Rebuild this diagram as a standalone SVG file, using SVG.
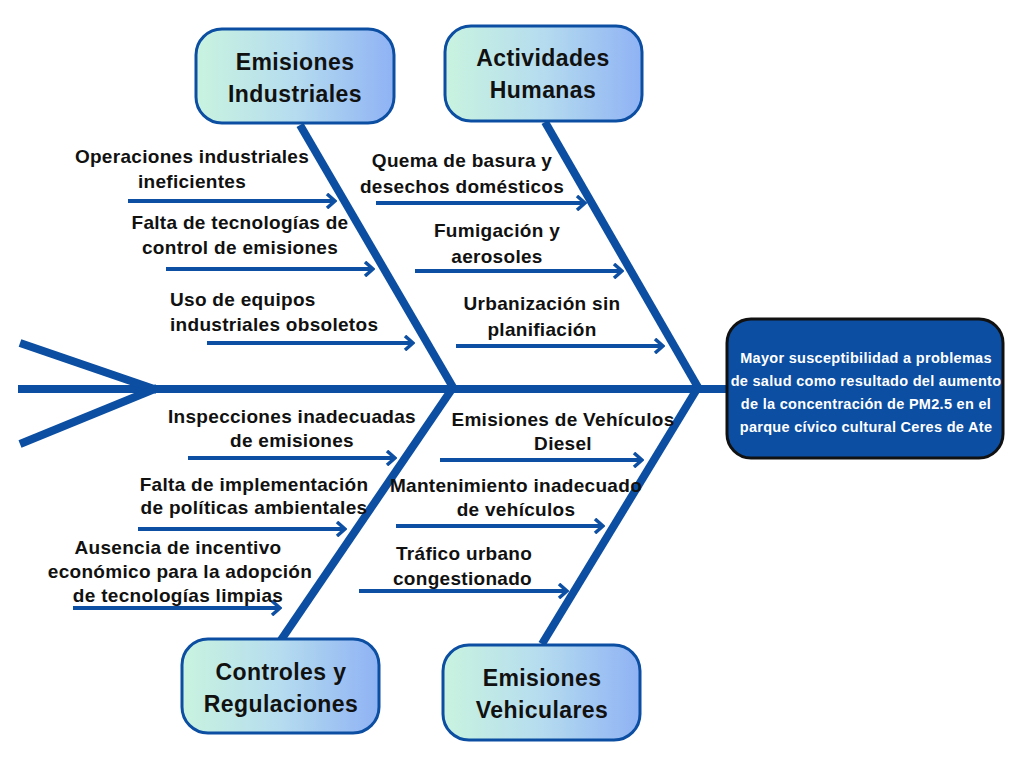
<svg xmlns="http://www.w3.org/2000/svg" width="1024" height="768" viewBox="0 0 1024 768">
<defs>
<linearGradient id="cat" x1="0" y1="0" x2="1" y2="0">
<stop offset="0" stop-color="#c9f3df"/>
<stop offset="0.5" stop-color="#b5dcef"/>
<stop offset="1" stop-color="#8fb2f4"/>
</linearGradient>
<marker id="ah" viewBox="0 0 12 16" refX="10" refY="8" markerWidth="12" markerHeight="16" markerUnits="userSpaceOnUse" orient="auto">
<path d="M2,1 L10,8 L2,15" fill="none" stroke="#0d4fa3" stroke-width="3.5"/>
</marker>
</defs>
<style>
.bone{stroke:#0b4ea2;stroke-width:8;fill:none;stroke-linecap:butt}
.arr{stroke:#0d4fa3;stroke-width:4;fill:none;marker-end:url(#ah)}
.cat rect{fill:url(#cat);stroke:#0b4ea2;stroke-width:3}
.cat text{font-family:"Liberation Sans",Arial,sans-serif;font-weight:bold;font-size:23px;letter-spacing:0.4px;fill:#111;text-anchor:middle}
.lbl{font-family:"Liberation Sans",Arial,sans-serif;font-weight:bold;font-size:19px;letter-spacing:0.3px;fill:#111}
.c{text-anchor:middle}
.eff text{font-family:"Liberation Sans",Arial,sans-serif;font-weight:bold;font-size:14.5px;letter-spacing:0.3px;fill:#fff;text-anchor:middle}
</style>
<rect width="1024" height="768" fill="#fff"/>
<g id="connectors">
<line class="bone" x1="18" y1="389" x2="728" y2="389"/>
<line class="bone" x1="20" y1="343" x2="157" y2="390"/>
<line class="bone" x1="20" y1="444" x2="157" y2="388"/>
<line class="bone" x1="300" y1="125" x2="454" y2="389"/>
<line class="bone" x1="545" y1="122" x2="699" y2="389"/>
<line class="bone" x1="452" y1="389" x2="281" y2="640"/>
<line class="bone" x1="697" y1="389" x2="542" y2="644"/>
<line class="arr" x1="128" y1="201" x2="335" y2="201"/>
<line class="arr" x1="166" y1="269" x2="373" y2="269"/>
<line class="arr" x1="207" y1="343" x2="413" y2="343"/>
<line class="arr" x1="376" y1="203" x2="585" y2="203"/>
<line class="arr" x1="415" y1="271" x2="622" y2="271"/>
<line class="arr" x1="456" y1="346" x2="663" y2="346"/>
<line class="arr" x1="188" y1="458" x2="395" y2="458"/>
<line class="arr" x1="138" y1="529" x2="345" y2="529"/>
<line class="arr" x1="73" y1="608" x2="280" y2="608"/>
<line class="arr" x1="440" y1="460" x2="642" y2="460"/>
<line class="arr" x1="396" y1="526" x2="603" y2="526"/>
<line class="arr" x1="359" y1="591" x2="567" y2="591"/>
</g>
<g id="labels">
<text class="lbl c" x="192" y="163">Operaciones industriales</text>
<text class="lbl c" x="192" y="188">ineficientes</text>
<text class="lbl c" x="240" y="229">Falta de tecnologías de</text>
<text class="lbl c" x="240" y="254">control de emisiones</text>
<text class="lbl" x="170" y="306">Uso de equipos</text>
<text class="lbl" x="170" y="331">industriales obsoletos</text>
<text class="lbl c" x="462" y="167">Quema de basura y</text>
<text class="lbl c" x="462" y="193">desechos domésticos</text>
<text class="lbl c" x="497" y="237">Fumigación y</text>
<text class="lbl c" x="497" y="263">aerosoles</text>
<text class="lbl c" x="542" y="310">Urbanización sin</text>
<text class="lbl c" x="542" y="336">planifiación</text>
<text class="lbl c" x="292" y="423">Inspecciones inadecuadas</text>
<text class="lbl c" x="292" y="447">de emisiones</text>
<text class="lbl c" x="254" y="491">Falta de implementación</text>
<text class="lbl c" x="254" y="514">de políticas ambientales</text>
<text class="lbl c" x="178" y="554">Ausencia de incentivo</text>
<text class="lbl c" x="180" y="578">económico para la adopción</text>
<text class="lbl c" x="178" y="602">de tecnologías limpias</text>
<text class="lbl c" x="563" y="426">Emisiones de Vehículos</text>
<text class="lbl c" x="563" y="450">Diesel</text>
<text class="lbl c" x="516" y="492">Mantenimiento inadecuado</text>
<text class="lbl c" x="516" y="516">de vehículos</text>
<text class="lbl" x="396" y="560">Tráfico urbano</text>
<text class="lbl" x="393" y="585">congestionado</text>
</g>
<g id="cat-industriales" class="cat">
<rect x="196" y="29" width="198" height="94" rx="26"/>
<text x="295" y="70">Emisiones</text>
<text x="295" y="102">Industriales</text>
</g>
<g id="cat-humanas" class="cat">
<rect x="445" y="26" width="197" height="95" rx="26"/>
<text x="543" y="66">Actividades</text>
<text x="543" y="98">Humanas</text>
</g>
<g id="cat-controles" class="cat">
<rect x="182" y="639" width="197" height="94" rx="26"/>
<text x="281" y="680">Controles y</text>
<text x="281" y="712">Regulaciones</text>
</g>
<g id="cat-vehiculares" class="cat">
<rect x="443" y="645" width="197" height="95" rx="26"/>
<text x="542" y="686">Emisiones</text>
<text x="542" y="718">Vehiculares</text>
</g>
<g id="effect" class="eff">
<rect x="727" y="319" width="276" height="139" rx="24" fill="#0b4ea2" stroke="#111" stroke-width="3"/>
<text x="866" y="363">Mayor susceptibilidad a problemas</text>
<text x="866" y="386">de salud como resultado del aumento</text>
<text x="866" y="409">de la concentración de PM2.5 en el</text>
<text x="866" y="432">parque cívico cultural Ceres de Ate</text>
</g>
</svg>
